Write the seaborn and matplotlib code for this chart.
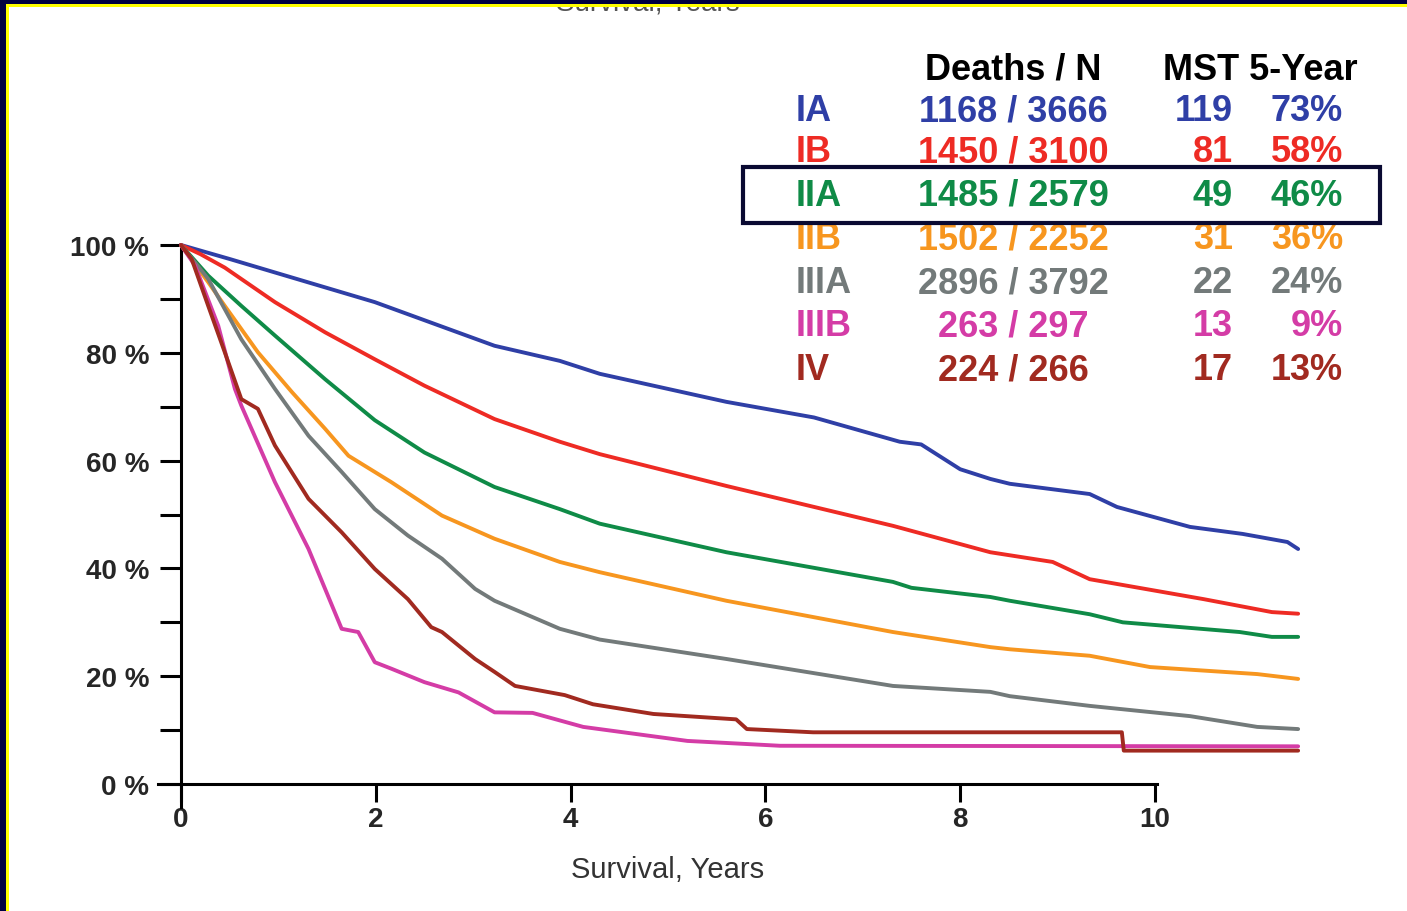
import numpy as np
import pandas as pd
import seaborn as sns
import matplotlib.pyplot as plt
from matplotlib.patches import Rectangle
from matplotlib.ticker import MultipleLocator

# survival curves (years, % surviving)
t_ia = [0, 0.5, 0.965, 1.99, 3.22, 3.89, 4.3, 5.6, 6.5, 7.38, 7.6, 8.0, 8.31, 8.51, 9.33, 9.61, 10.36, 10.9, 11.36, 11.47]
s_ia = [100, 97.4, 94.9, 89.4, 81.3, 78.5, 76.1, 70.9, 68.0, 63.5, 63.0, 58.4, 56.6, 55.7, 53.8, 51.4, 47.7, 46.4, 44.9, 43.6]
t_ib = [0, 0.2, 0.45, 0.965, 1.48, 1.99, 2.5, 3.22, 3.89, 4.3, 5.6, 7.31, 8.31, 8.95, 9.33, 10.5, 11.2, 11.47]
s_ib = [100, 98.3, 95.8, 89.4, 83.8, 78.8, 73.9, 67.7, 63.5, 61.2, 55.3, 47.9, 43.0, 41.2, 38.0, 34.3, 31.9, 31.6]
t_iia = [0, 0.28, 0.62, 0.965, 1.48, 1.99, 2.5, 3.22, 3.89, 4.3, 5.6, 7.31, 7.5, 8.31, 8.51, 9.33, 9.67, 10.87, 11.2, 11.47]
s_iia = [100, 94.3, 88.7, 83.2, 75.1, 67.5, 61.5, 55.1, 51.0, 48.3, 43.0, 37.5, 36.4, 34.7, 34.0, 31.5, 30.0, 28.2, 27.3, 27.3]
t_iib = [0, 0.28, 0.45, 0.79, 1.14, 1.48, 1.72, 2.16, 2.68, 3.22, 3.89, 4.3, 5.6, 7.31, 8.31, 8.51, 9.33, 9.95, 11.05, 11.47]
s_iib = [100, 93.1, 88.7, 80.1, 72.7, 65.9, 60.9, 56.0, 49.8, 45.5, 41.2, 39.3, 34, 28.2, 25.4, 25, 23.8, 21.7, 20.4, 19.5]
t_iiia = [0, 0.28, 0.62, 0.965, 1.31, 1.65, 1.99, 2.33, 2.68, 3.02, 3.22, 3.89, 4.3, 5.6, 7.31, 8.31, 8.51, 9.33, 10.36, 11.05, 11.47]
s_iiia = [100, 93.7, 82.5, 73.3, 64.6, 57.9, 51.0, 46.1, 41.8, 36.2, 34.0, 28.8, 26.8, 23.2, 18.2, 17.1, 16.3, 14.5, 12.6, 10.6, 10.2]
t_iiib = [0, 0.144, 0.383, 0.554, 0.62, 0.965, 1.31, 1.65, 1.82, 1.99, 2.16, 2.5, 2.85, 3.22, 3.61, 4.13, 5.2, 6.15, 11.47]
s_iiib = [100, 96.2, 85.0, 73.3, 70.2, 56.0, 43.6, 28.8, 28.2, 22.6, 21.4, 18.9, 17.0, 13.3, 13.2, 10.6, 8, 7.1, 7.0]
t_iv = [0, 0.11, 0.28, 0.45, 0.62, 0.79, 0.965, 1.31, 1.65, 1.99, 2.33, 2.57, 2.68, 3.02, 3.22, 3.43, 3.94, 4.23, 4.85, 5.7, 5.81, 6.49, 9.66, 9.68, 11.47]
s_iv = [100, 97.4, 88.7, 80.1, 71.4, 69.6, 62.8, 52.9, 46.7, 39.9, 34.3, 29.1, 28.2, 23.2, 20.8, 18.2, 16.5, 14.8, 13, 12, 10.2, 9.6, 9.6, 6.2, 6.2]

stages = ["IA", "IB", "IIA", "IIB", "IIIA", "IIIB", "IV"]
deaths_n = ["1168 / 3666", "1450 / 3100", "1485 / 2579", "1502 / 2252", "2896 / 3792", "263 / 297", "224 / 266"]
mst = ["119", "81", "49", "31", "22", "13", "17"]
five_year = ["73%", "58%", "46%", "36%", "24%", "9%", "13%"]
colors = ["#2f3fa6", "#ee2b24", "#0f8b47", "#f7961f", "#737a7a", "#d43ca6", "#a12a20"]

times = [t_ia, t_ib, t_iia, t_iib, t_iiia, t_iiib, t_iv]
surv = [s_ia, s_ib, s_iia, s_iib, s_iiia, s_iiib, s_iv]
frames = []
for st, t, s in zip(stages, times, surv):
    frames.append(pd.DataFrame({"years": t, "survival": s, "stage": st}))
df = pd.concat(frames, ignore_index=True)

sns.set_style("ticks")
plt.rcParams['font.family'] = ['Liberation Sans', 'DejaVu Sans']

W, H = 1407, 912
fig = plt.figure(figsize=(W / 100, H / 100), dpi=100)
fig.patch.set_facecolor("white")

x0, x1 = -0.25, 11.6
y0, y1 = -5, 102
ax = fig.add_axes([156.6 / W, 100 / H, (1310.8 - 156.6) / W, (812 - 235.2) / H])

sns.lineplot(data=df, x="years", y="survival", hue="stage", hue_order=stages,
             palette=dict(zip(stages, colors)), estimator=None, sort=False,
             linewidth=2.8, legend=False, ax=ax, zorder=3)

ax.set_xlim(x0, x1)
ax.set_ylim(y0, y1)
ax.set_facecolor("white")
sns.despine(ax=ax)
# axes cross at the origin
ax.spines['bottom'].set_position(('data', 0))
ax.spines['left'].set_position(('data', 0))
ax.spines['bottom'].set_bounds(-0.24, 10.02)
ax.spines['left'].set_bounds(-4.3, 100)
for side in ['bottom', 'left']:
    ax.spines[side].set_linewidth(2.2)
    ax.spines[side].set_color("black")

ax.set_xticks(range(0, 11, 2))
ax.set_xticklabels([str(v) for v in range(0, 11, 2)])
ax.set_yticks(range(0, 101, 20))
ax.set_yticklabels([f"{v} %" for v in range(0, 101, 20)])
ax.yaxis.set_minor_locator(MultipleLocator(10))
ax.tick_params(axis='both', which='both', direction='out', width=2.2, color="black")
ax.tick_params(axis='y', which='both', length=15, pad=8, labelsize=20)
ax.tick_params(axis='x', length=13, pad=3, labelsize=20)
for lab in ax.get_xticklabels() + ax.get_yticklabels():
    lab.set_fontweight("bold")

ax.set_xlabel("Survival, Years", fontsize=21, color="#333333")
ax.set_ylabel("")
ax.xaxis.set_label_coords((5.0 - x0) / (x1 - x0), -0.076)

# header and table of stages
def fx(px):
    return px / W

def fy(py):
    return 1 - py / H

fig.text(fx(1013), fy(70), "Deaths / N", ha="center", va="center", fontsize=26, fontweight="bold", color="black")
fig.text(fx(1163), fy(70), "MST 5-Year", ha="left", va="center", fontsize=26, fontweight="bold", color="black")
row_y = [112, 153, 196, 240, 284, 327, 371]
for i, st in enumerate(stages):
    c = colors[i]
    fig.text(fx(796), fy(row_y[i]), st, ha="left", va="center", fontsize=26, fontweight="bold", color=c)
    fig.text(fx(1013), fy(row_y[i]), deaths_n[i], ha="center", va="center", fontsize=26, fontweight="bold", color=c)
    fig.text(fx(1233), fy(row_y[i]), mst[i], ha="right", va="center", fontsize=26, fontweight="bold", color=c)
    fig.text(fx(1343), fy(row_y[i]), five_year[i], ha="right", va="center", fontsize=26, fontweight="bold", color=c)

# box around stage IIA row
fig.patches.append(Rectangle((fx(743), fy(224)), (1380 - 743) / W, (224 - 168) / H,
                             transform=fig.transFigure, fill=False, ec="#0a0a32", lw=3, zorder=5))

# title of the slide above, only its lower edge shows
fig.text(fx(648), fy(10), "Survival, Years", ha="center", va="baseline", fontsize=20, color="#555555", zorder=1)

# slide frame: navy band with a thin yellow line, top and left
navy = "#000040"
yellow = "#ffff00"
fig.patches.append(Rectangle((0, fy(5)), 1, 5 / H, transform=fig.transFigure, fc=navy, ec="none", zorder=10))
fig.patches.append(Rectangle((fx(6), fy(7.5)), 1, 2.5 / H, transform=fig.transFigure, fc=yellow, ec="none", zorder=10))
fig.patches.append(Rectangle((0, 0), 6 / W, 1, transform=fig.transFigure, fc=navy, ec="none", zorder=11))
fig.patches.append(Rectangle((fx(6), 0), 3 / W, fy(5), transform=fig.transFigure, fc=yellow, ec="none", zorder=10))

plt.savefig("out.png", dpi=100, facecolor="white")
